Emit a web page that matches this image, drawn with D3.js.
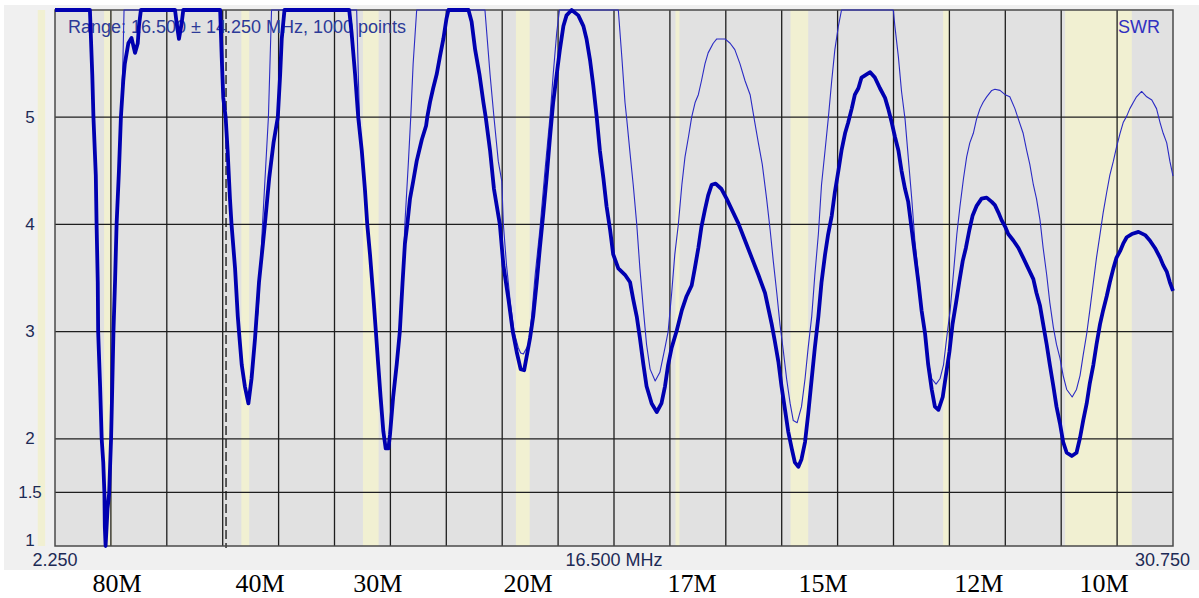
<!DOCTYPE html>
<html>
<head>
<meta charset="utf-8">
<script src="https://cdn.jsdelivr.net/npm/d3@7"></script>
<style>
  html, body { margin: 0; padding: 0; background: #ffffff; }
  svg { display: block; }
</style>
</head>
<body>
<svg id="chart" width="1199" height="598"></svg>
<script>
// ---------- data ----------
const xDomain = [2.25, 30.75];
const yDomain = [1, 6];
const yTickValues = [1, 1.5, 2, 3, 4, 5];
const yGridValues = [1.5, 2, 3, 4, 5];
const xTickLabels = ["2.250", "16.500 MHz", "30.750"];
const xTickFreqs = [2.25, 16.5, 30.75];
const markerFreq = 6.61;
const rangeText = "Range: 16.500 \u00b1 14.250 MHz, 1000 points";
const seriesLabel = "SWR";

// amateur band highlights (MHz)
const bandStarts = [1.81, 3.5, 7.0, 10.1, 14.0, 18.068, 21.0, 24.89, 28.0];
const bandEnds   = [2.0, 3.7, 7.2, 10.5, 14.35, 18.168, 21.45, 25.05, 29.7];

// band name labels below the chart
const bandNames = ["80M", "40M", "30M", "20M", "17M", "15M", "12M", "10M"];
const bandLabelFreqs = [3.83, 7.48, 10.48, 14.31, 18.49, 21.83, 25.80, 28.99];

// thick trace
const freqA = [2.25,3.14,3.20,3.23,3.29,3.31,3.34,3.35,3.40,3.44,3.48,3.51,3.52,3.54,3.59,3.63,3.68,3.71,3.74,3.78,3.82,3.88,3.93,3.99,4.03,4.12,4.20,4.29,4.36,4.39,4.44,5.31,5.35,5.41,5.48,5.52,6.46,6.50,6.54,6.60,6.65,6.71,6.75,6.84,6.91,6.94,7.01,7.09,7.18,7.26,7.35,7.45,7.54,7.60,7.71,7.82,7.93,7.99,8.03,8.10,
9.75,9.81,9.90,9.98,10.07,10.15,10.21,10.28,10.37,10.43,10.49,10.55,10.62,10.68,10.75,10.79,10.87,10.96,11.04,11.11,11.17,11.23,11.30,11.38,11.47,11.60,11.71,11.74,11.81,11.89,11.98,12.06,12.15,12.23,12.28,12.79,12.87,12.96,13.07,13.17,13.23,13.34,13.44,13.59,13.68,13.81,13.92,14.02,14.12,14.21,
14.36,14.44,14.53,14.61,14.70,14.78,14.87,14.95,15.04,15.12,15.21,15.29,15.42,15.59,15.72,15.80,15.89,15.97,16.06,16.14,16.23,16.31,16.40,16.48,16.61,16.78,16.91,16.99,17.08,17.16,17.25,17.33,17.46,17.59,17.71,17.80,17.88,17.97,18.10,18.23,18.35,18.48,18.56,18.65,18.73,18.82,18.90,18.99,19.09,19.24,19.37,19.50,19.67,19.84,20.01,20.18,20.35,
20.52,20.60,20.69,20.77,20.86,20.94,21.03,21.11,21.20,21.28,21.37,21.45,21.54,21.62,21.71,21.79,21.88,21.96,22.05,22.13,22.22,22.30,22.39,22.47,22.56,22.64,22.73,22.81,22.94,23.03,23.15,23.28,23.41,23.49,23.58,23.66,23.75,23.83,23.92,24.00,24.09,24.17,24.26,24.34,24.43,24.51,24.60,24.68,24.77,24.88,24.96,25.05,25.13,25.22,25.30,25.39,25.47,25.56,25.64,25.74,25.87,26.00,26.13,
26.21,26.30,26.38,26.47,26.55,26.68,26.81,26.93,27.06,27.19,27.27,27.36,27.44,27.53,27.61,27.70,27.78,27.87,27.95,28.04,28.17,28.29,28.38,28.46,28.55,28.63,28.72,28.80,28.89,28.97,29.06,29.14,29.23,29.31,29.40,29.48,29.57,29.70,29.87,30.04,30.16,30.29,30.42,30.50,30.59,30.67,30.75];
const swrA = [6,6,5.40,5.0,4.46,4.0,3.46,3.0,2.49,2.0,1.78,1.49,1.18,1.0,1.35,1.49,2.01,2.49,3.0,3.46,4.0,4.50,5.0,5.34,5.50,5.69,5.74,5.60,5.69,5.85,6.0,6.0,5.88,5.73,5.88,6.0,6.0,5.56,5.18,5.0,4.69,4.24,4.0,3.59,3.14,3.0,2.69,2.49,2.33,2.56,2.94,3.46,3.78,4.0,4.43,4.76,5.0,5.40,5.73,6.0,
6.0,5.79,5.40,5.0,4.69,4.33,4.0,3.72,3.30,3.0,2.69,2.39,2.07,1.91,1.91,2.04,2.39,2.69,3.0,3.46,3.82,4.0,4.24,4.40,4.59,4.79,4.92,5.0,5.14,5.27,5.40,5.56,5.73,5.92,6.0,6.0,5.89,5.63,5.40,5.14,5.0,4.69,4.33,4.0,3.62,3.30,3.0,2.81,2.65,2.64,
2.94,3.14,3.46,3.78,4.11,4.43,4.82,5.14,5.40,5.63,5.85,5.95,6.0,5.95,5.85,5.73,5.53,5.30,5.0,4.69,4.43,4.17,3.95,3.72,3.59,3.53,3.46,3.30,3.14,2.94,2.69,2.49,2.33,2.25,2.33,2.49,2.69,2.85,3.01,3.20,3.33,3.43,3.59,3.78,3.98,4.14,4.27,4.37,4.38,4.33,4.24,4.14,4.01,3.85,3.69,3.53,3.36,
3.07,2.91,2.72,2.49,2.27,2.07,1.91,1.78,1.74,1.81,1.97,2.23,2.56,2.85,3.14,3.46,3.72,3.91,4.08,4.30,4.50,4.69,4.85,4.95,5.08,5.21,5.27,5.37,5.40,5.42,5.37,5.27,5.18,5.08,4.95,4.82,4.69,4.50,4.33,4.21,3.95,3.72,3.46,3.20,2.98,2.69,2.46,2.30,2.27,2.39,2.59,2.81,3.07,3.27,3.46,3.66,3.78,3.95,4.08,4.17,4.24,4.25,4.21,
4.18,4.11,4.04,3.98,3.91,3.85,3.78,3.69,3.59,3.49,3.36,3.24,3.07,2.88,2.69,2.49,2.30,2.14,1.97,1.87,1.84,1.87,2.01,2.17,2.33,2.52,2.69,2.88,3.07,3.20,3.33,3.46,3.59,3.69,3.75,3.82,3.88,3.91,3.93,3.90,3.85,3.78,3.69,3.62,3.56,3.46,3.38];

// thin trace
const freqB = [2.25,3.14,3.20,3.23,3.29,3.31,3.34,3.35,3.40,3.44,3.48,3.51,3.52,3.54,3.59,3.63,3.68,3.71,3.74,3.78,3.82,3.88,3.93,3.98,4.01,6.46,6.50,6.54,6.60,6.65,6.71,6.75,6.84,6.91,6.94,7.01,7.09,7.18,7.26,7.35,7.43,7.54,7.69,7.77,
9.94,10.01,10.07,10.15,10.21,10.28,10.37,10.43,10.49,10.55,10.62,10.68,10.75,10.79,10.87,10.96,11.04,11.11,11.17,11.26,11.32,11.38,11.47,13.21,13.34,13.44,13.55,13.64,13.68,13.76,13.85,13.95,14.06,14.12,14.19,
14.32,14.40,14.49,14.61,14.74,14.87,14.95,15.04,15.11,16.61,16.70,16.78,16.82,16.91,16.99,17.08,17.16,17.25,17.33,17.42,17.55,17.67,17.80,17.88,17.97,18.05,18.14,18.23,18.31,18.40,18.48,18.57,18.65,18.73,18.82,18.90,19.03,19.12,19.33,19.46,19.58,19.71,19.84,19.97,20.09,20.18,20.28,
20.39,20.48,20.56,20.65,20.73,20.82,20.90,20.99,21.07,21.17,21.28,21.37,21.45,21.54,21.62,21.71,21.79,21.88,21.96,22.05,22.13,22.22,22.30,23.62,23.66,23.75,23.83,23.92,24.00,24.09,24.17,24.26,24.34,24.43,24.51,24.60,24.71,24.81,24.90,24.98,25.07,25.15,25.24,25.32,25.41,25.49,25.57,25.66,25.74,25.83,25.91,26.00,26.13,
26.21,26.34,26.47,26.59,26.72,26.81,26.93,27.02,27.10,27.19,27.27,27.36,27.44,27.53,27.61,27.70,27.78,27.87,27.95,28.04,28.18,28.29,28.38,28.46,28.55,28.63,28.72,28.80,28.89,28.97,29.06,29.14,29.23,29.31,29.40,29.48,29.57,29.65,29.74,29.82,29.95,30.08,30.21,30.33,30.42,30.50,30.59,30.67,30.75];
const swrB = [6,6,5.40,5.0,4.46,4.0,3.46,3.0,2.49,2.0,1.78,1.49,1.18,1.0,1.35,1.49,2.01,2.49,3.0,3.46,4.0,4.50,5.0,5.5,6.0,6.0,5.56,5.18,5.0,4.69,4.24,4.0,3.59,3.14,3.0,2.69,2.49,2.33,2.56,2.94,3.20,4.0,5.0,6.0,
6.0,5.0,4.69,4.33,4.0,3.72,3.30,3.0,2.69,2.39,2.07,1.91,1.91,2.04,2.39,2.69,3.0,3.46,4.01,4.59,5.01,5.50,6.0,6.0,5.40,5.0,4.59,4.40,4.0,3.62,3.30,3.0,2.85,2.80,2.79,
2.88,3.14,3.53,3.95,4.50,5.01,5.40,5.79,6.0,6.0,5.56,5.14,5.0,4.66,4.37,4.0,3.59,3.20,2.88,2.65,2.54,2.62,2.85,3.0,3.36,3.72,4.0,4.37,4.63,4.82,5.0,5.14,5.21,5.34,5.50,5.60,5.69,5.73,5.73,5.69,5.63,5.50,5.34,5.21,4.95,4.76,4.56,
4.24,3.95,3.66,3.36,3.07,2.81,2.56,2.33,2.17,2.15,2.30,2.56,2.85,3.14,3.53,3.91,4.37,4.69,4.98,5.34,5.63,5.85,6.0,6.0,5.85,5.56,5.24,4.98,4.63,4.24,3.85,3.53,3.20,2.94,2.72,2.56,2.51,2.56,2.69,2.94,3.20,3.53,3.91,4.17,4.43,4.63,4.76,4.85,4.98,5.08,5.14,5.19,5.25,
5.26,5.25,5.21,5.19,5.08,4.98,4.85,4.69,4.56,4.37,4.24,4.04,3.78,3.53,3.27,3.04,2.88,2.75,2.59,2.46,2.39,2.46,2.59,2.78,2.98,3.20,3.46,3.69,3.91,4.11,4.30,4.46,4.59,4.72,4.85,4.95,5.01,5.08,5.14,5.19,5.24,5.19,5.16,5.08,4.95,4.85,4.76,4.59,4.45];

// ---------- drawing ----------
const svg = d3.select("#chart");
const plot = { left: 55, right: 1173, top: 10, bottom: 546 };
const x = d3.scaleLinear().domain(xDomain).range([plot.left, plot.right]);
const y = d3.scaleLinear().domain(yDomain).range([plot.bottom, plot.top]);

const sansFont = "'Liberation Sans', Arial, sans-serif";
const serifFont = "'Liberation Serif', 'Times New Roman', serif";

// outer panel
svg.append("rect").attr("x", 4).attr("y", 5).attr("width", 1195).attr("height", 565).attr("fill", "#f0f0f0");

// plot background
svg.append("rect").attr("x", plot.left).attr("y", plot.top)
  .attr("width", plot.right - plot.left).attr("height", plot.bottom - plot.top)
  .attr("fill", "#e1e1e1");

// band highlights
const bands = bandStarts.map((s, i) => ({ s, e: bandEnds[i] }));
svg.append("g").selectAll("rect").data(bands).join("rect")
  .attr("x", d => x(d.s)).attr("y", plot.top)
  .attr("width", d => x(d.e) - x(d.s)).attr("height", plot.bottom - plot.top)
  .attr("fill", "#f1f0d2");

// vertical grid (20 divisions)
const xGrid = d3.range(1, 20).map(k => xDomain[0] + k * (xDomain[1] - xDomain[0]) / 20);
svg.append("g").selectAll("line").data(xGrid).join("line")
  .attr("x1", d => x(d)).attr("x2", d => x(d))
  .attr("y1", plot.top).attr("y2", plot.bottom)
  .attr("stroke", "#1e1e1e").attr("stroke-width", 1.3);

// horizontal grid
svg.append("g").selectAll("line").data(yGridValues).join("line")
  .attr("x1", plot.left).attr("x2", plot.right)
  .attr("y1", d => y(d)).attr("y2", d => y(d))
  .attr("stroke", "#1e1e1e").attr("stroke-width", 1.3);

// marker dashed line
svg.append("line")
  .attr("x1", x(markerFreq)).attr("x2", x(markerFreq))
  .attr("y1", plot.top).attr("y2", plot.bottom + 2)
  .attr("stroke", "#111").attr("stroke-width", 1.3)
  .attr("stroke-dasharray", "9,4");

// border
svg.append("rect").attr("x", plot.left).attr("y", plot.top)
  .attr("width", plot.right - plot.left).attr("height", plot.bottom - plot.top)
  .attr("fill", "none").attr("stroke", "#4a4a4a").attr("stroke-width", 1.5);

// range text & series label
svg.append("text").attr("x", 68).attr("y", 33)
  .attr("font-family", sansFont).attr("font-size", 18)
  .attr("fill", "#2c3a98").text(rangeText);
svg.append("text").attr("x", 1160).attr("y", 33).attr("text-anchor", "end")
  .attr("font-family", sansFont).attr("font-size", 18)
  .attr("fill", "#3030c0").text(seriesLabel);

// y tick labels
svg.append("g").selectAll("text").data(yTickValues).join("text")
  .attr("x", 30).attr("y", d => Math.min(y(d), 540))
  .attr("text-anchor", "middle").attr("dominant-baseline", "central")
  .attr("font-family", sansFont).attr("font-size", 17)
  .attr("fill", "#1d2a55").text(d => d);

// x tick labels
const xLab = xTickFreqs.map((f, i) => ({ f, t: xTickLabels[i], i }));
svg.append("g").selectAll("text").data(xLab).join("text")
  .attr("x", d => d.i === 2 ? x(d.f) + 17 : x(d.f))
  .attr("y", 566)
  .attr("text-anchor", d => d.i === 2 ? "end" : "middle")
  .attr("font-family", sansFont).attr("font-size", 18)
  .attr("fill", "#1d2a55").text(d => d.t);

// traces
const line = d3.line().x(d => x(d[0])).y(d => y(d[1]));
const dataB = freqB.map((f, i) => [f, swrB[i]]);
const dataA = freqA.map((f, i) => [f, swrA[i]]);

svg.append("path").datum(dataB).attr("d", line)
  .attr("fill", "none").attr("stroke", "#2a2ac4").attr("stroke-width", 1.1)
  .attr("stroke-linejoin", "round");
svg.append("path").datum(dataA).attr("d", line)
  .attr("fill", "none").attr("stroke", "#0000b0").attr("stroke-width", 3.8)
  .attr("stroke-linejoin", "round");

// band name labels
const bl = bandNames.map((n, i) => ({ n, f: bandLabelFreqs[i] }));
svg.append("g").selectAll("text").data(bl).join("text")
  .attr("x", d => x(d.f)).attr("y", 592)
  .attr("text-anchor", "middle")
  .attr("font-family", serifFont).attr("font-size", 26)
  .attr("fill", "#000").text(d => d.n);
</script>
</body>
</html>
